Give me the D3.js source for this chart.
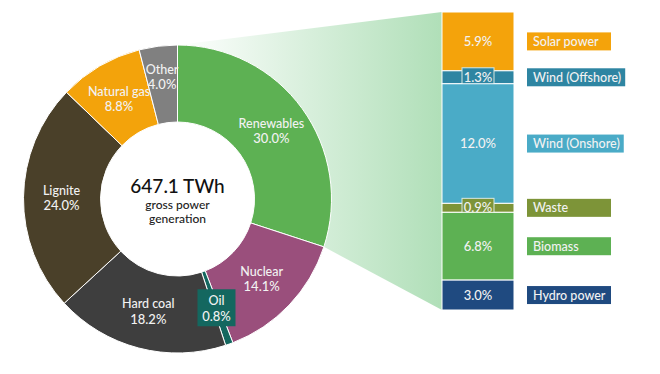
<!DOCTYPE html>
<html>
<head>
<meta charset="utf-8">
<script src="https://cdn.jsdelivr.net/npm/d3@7"></script>
<style>
  body { margin: 0; background: #fff; }
  svg { font-family: Lato, "Open Sans", sans-serif; }
</style>
</head>
<body>
<div id="chart"></div>
<script>
// donut: gross power generation by source (%)
var sources = ["Renewables", "Nuclear", "Oil", "Hard coal", "Lignite", "Natural gas", "Other"];
var shares = [30.0, 14.1, 0.8, 18.2, 24.0, 8.8, 4.0];
var sourceColors = ["#5db153", "#9a4f7c", "#14675f", "#3e3e3e", "#4a4029", "#f3a30b", "#808080"];

// bar: breakdown of renewables (%)
var renewables = ["Solar power", "Wind (Offshore)", "Wind (Onshore)", "Waste", "Biomass", "Hydro power"];
var renewShares = [5.9, 1.3, 12.0, 0.9, 6.8, 3.0];
var renewColors = ["#f4a30b", "#2e85a2", "#4aabc7", "#7d9438", "#5db153", "#1f4a80"];

var totalLabel = "647.1 TWh";
var subLabel = ["gross power", "generation"];

var W = 660, H = 374;
var cx = 177.5, cy = 199, R = 154, r0 = 77;

var svg = d3.select("#chart").append("svg")
    .attr("width", W)
    .attr("height", H);

var defs = svg.append("defs");
var grad = defs.append("linearGradient")
    .attr("id", "fan")
    .attr("x1", "0%").attr("x2", "100%")
    .attr("y1", "0%").attr("y2", "0%");
grad.append("stop").attr("offset", "0%").attr("stop-color", "#b0dfb8").attr("stop-opacity", 0);
grad.append("stop").attr("offset", "100%").attr("stop-color", "#b0dfb8").attr("stop-opacity", 1);

// bar scale
var renewTotal = d3.sum(renewShares);
var barX = 442, barW = 72;
var yBar = d3.scaleLinear().domain([0, renewTotal]).range([12, 310]);

var stackData = [];
var acc = 0;
renewShares.forEach(function (v, i) {
    stackData.push({ name: renewables[i], value: v, y0: acc, y1: acc + v, color: renewColors[i] });
    acc += v;
});

// pie
var pie = d3.pie().sort(null).value(function (d) { return d; });
var arcs = pie(shares);
var arc = d3.arc().innerRadius(r0).outerRadius(R);

// fan from renewables slice to bar
var ren = arcs[0];
var p0 = [cx + R * Math.sin(ren.startAngle), cy - R * Math.cos(ren.startAngle)];
var p1 = [cx + R * Math.sin(ren.endAngle), cy - R * Math.cos(ren.endAngle)];
svg.append("path")
    .attr("d", "M" + p0 + "L" + [barX, yBar(0)] + "L" + [barX, yBar(renewTotal)] + "L" + p1 + "Z")
    .attr("fill", "url(#fan)");

var g = svg.append("g").attr("transform", "translate(" + cx + "," + cy + ")");

g.selectAll("path.slice")
    .data(arcs)
    .enter().append("path")
    .attr("class", "slice")
    .attr("d", arc)
    .attr("fill", function (d, i) { return sourceColors[i]; })
    .attr("stroke", "#fff")
    .attr("stroke-width", 1);

// slice labels
var labelArc = d3.arc().innerRadius(116).outerRadius(116);
var labelArcOther = d3.arc().innerRadius(123).outerRadius(123);
arcs.forEach(function (d, i) {
    var c = (sources[i] === "Other" ? labelArcOther : labelArc).centroid(d);
    var lg = g.append("g").attr("transform", "translate(" + c + ")");
    if (sources[i] === "Oil") {
        lg.append("rect")
            .attr("x", -19).attr("y", -19)
            .attr("width", 38).attr("height", 37)
            .attr("fill", sourceColors[i]);
    }
    lg.append("text")
        .attr("text-anchor", "middle")
        .attr("y", -3)
        .attr("fill", "#f2f2f2")
        .attr("font-size", 12.5)
        .attr("font-weight", 500)
        .text(sources[i]);
    lg.append("text")
        .attr("text-anchor", "middle")
        .attr("y", 12.5)
        .attr("fill", "#f2f2f2")
        .attr("font-size", 13)
        .attr("font-weight", 500)
        .text(shares[i].toFixed(1) + "%");
});

// centre text
g.append("text")
    .attr("text-anchor", "middle")
    .attr("y", -6)
    .attr("font-size", 19)
    .attr("font-weight", 500)
    .attr("fill", "#111")
    .text(totalLabel);
subLabel.forEach(function (t, i) {
    g.append("text")
        .attr("text-anchor", "middle")
        .attr("y", 10 + i * 14)
        .attr("font-size", 12)
        .attr("font-weight", 500)
        .attr("fill", "#222")
        .text(t);
});

// bar segments
var seg = svg.selectAll("g.seg")
    .data(stackData)
    .enter().append("g")
    .attr("class", "seg");

seg.append("rect")
    .attr("x", barX)
    .attr("width", barW)
    .attr("y", function (d) { return yBar(d.y0); })
    .attr("height", function (d) { return yBar(d.y1) - yBar(d.y0); })
    .attr("fill", function (d) { return d.color; })
    .attr("stroke", "#fff")
    .attr("stroke-width", 1);

seg.each(function (d) {
    var el = d3.select(this);
    var my = (yBar(d.y0) + yBar(d.y1)) / 2;
    if (d.value < 2) {
        el.append("rect")
            .attr("x", barX + barW / 2 - 16)
            .attr("y", my - 9.5)
            .attr("width", 32)
            .attr("height", 19)
            .attr("fill", d.color)
            .attr("stroke", "#d8e8e0")
            .attr("stroke-width", 1);
    }
    el.append("text")
        .attr("x", barX + barW / 2)
        .attr("y", my + 4.5)
        .attr("text-anchor", "middle")
        .attr("font-size", 13)
        .attr("font-weight", 500)
        .attr("fill", "#f2f2f2")
        .text(d.value.toFixed(1) + "%");

    // legend box
    var lx = 527;
    var t = el.append("text")
        .attr("x", lx + 6)
        .attr("y", my + 4.5)
        .attr("font-size", 12.5)
        .attr("font-weight", 500)
        .attr("fill", "#f2f2f2")
        .text(d.name);
    var tw = t.node().getComputedTextLength();
    el.insert("rect", function () { return t.node(); })
        .attr("x", lx)
        .attr("y", my - 9)
        .attr("width", Math.max(84, tw + 10))
        .attr("height", 18)
        .attr("fill", d.color);
});
</script>
</body>
</html>
